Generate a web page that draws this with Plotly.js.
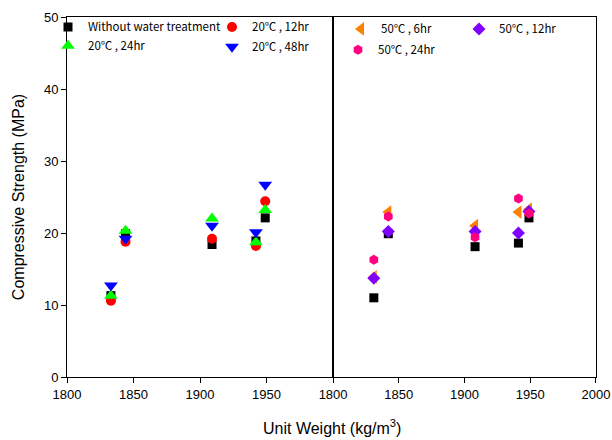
<!DOCTYPE html>
<html>
<head>
<meta charset="utf-8">
<script src="https://cdn.plot.ly/plotly-3.0.1.min.js"></script>
<style>html,body{margin:0;padding:0;background:#fff;}#chart{width:612px;height:440px;}</style>
</head>
<body>
<div id="chart"></div>
<script>
// Left panel (20 ℃ curing)
const xLeft = [1833, 1844, 1909, 1942, 1949];
const noTreatLeft = [11.3, 19.9, 18.4, 18.9, 22.1];
const t20_12 = [10.6, 18.8, 19.2, 18.2, 24.4];
const t20_24 = [11.3, 20.3, 22.0, 18.7, 23.2];
const t20_48 = [12.7, 19.2, 21.0, 20.1, 26.7];
// Right panel (50 ℃ curing)
const xRight = [1831, 1842, 1908, 1941, 1949];
const noTreatRight = [11.0, 19.9, 18.1, 18.6, 22.1];
const t50_6 = [13.9, 22.9, 21.0, 22.9, 23.3];
const t50_12 = [13.7, 20.2, 20.2, 20.0, 23.0];
const t50_24 = [16.3, 22.3, 19.4, 24.8, 22.7];

const names = ['Without water treatment', '20℃ , 12hr', '20℃ , 24hr', '20℃ , 48hr',
               '50℃ , 6hr', '50℃ , 12hr', '50℃ , 24hr'];
const xTicksLeft = [1800, 1850, 1900, 1950];
const xTicksRight = [1800, 1850, 1900, 1950, 2000];
const yTicks = [0, 10, 20, 30, 40, 50];

function tr(x, y, name, color, symbol, size, xa, ya, leg, show) {
  return {x: x, y: y, name: name, type: 'scatter', mode: 'markers',
    xaxis: xa, yaxis: ya, legend: leg, showlegend: show,
    marker: {color: color, symbol: symbol, size: size, line: {width: 0}}};
}
const data = [
  tr(xLeft, noTreatLeft, names[0], '#000000', 'square', 9, 'x', 'y', 'legend', true),
  tr(xLeft, t20_12, names[1], '#ff0000', 'circle', 10, 'x', 'y', 'legend2', true),
  tr(xLeft, t20_24, names[2], '#00ff00', 'triangle-up', 12, 'x', 'y', 'legend3', true),
  tr(xLeft, t20_48, names[3], '#0000ff', 'triangle-down', 12, 'x', 'y', 'legend4', true),
  tr(xRight, noTreatRight, names[0], '#000000', 'square', 9, 'x2', 'y2', 'legend', false),
  tr(xRight, t50_6, names[4], '#ff8000', 'triangle-left', 12, 'x2', 'y2', 'legend5', true),
  tr(xRight, t50_12, names[5], '#8000ff', 'diamond', 10, 'x2', 'y2', 'legend6', true),
  tr(xRight, t50_24, names[6], '#ff0080', 'hexagon', 10, 'x2', 'y2', 'legend7', true)
];

const W = 612, H = 440, L = 67, R = 16, T = 15, B = 63;
const pw = W - L - R, ph = H - T - B;
function px(x) { return (x - L) / pw; }
function py(y) { return (H - B - y) / ph; }
const legFont = {family: 'Noto Sans CJK KR, Noto Sans, sans-serif', size: 11.5, color: '#000'};
function leg(xp, yp) {
  return {x: px(xp), y: py(yp), xanchor: 'left', yanchor: 'middle',
    bgcolor: 'rgba(0,0,0,0)', borderwidth: 0, font: legFont, itemwidth: 30};
}
const tickFont = {family: 'Liberation Sans, Arial, sans-serif', size: 13, color: '#000'};
const axCommon = {showgrid: false, zeroline: false, showline: true, linecolor: '#000',
  linewidth: 1, mirror: true, tickfont: tickFont, ticks: 'outside', ticklen: 5,
  tickcolor: '#000', range: [1800, 2000], fixedrange: true};

const layout = {
  width: W, height: H, margin: {l: L, r: R, t: T, b: B},
  paper_bgcolor: '#fff', plot_bgcolor: '#fff',
  xaxis: Object.assign({}, axCommon, {domain: [0, 0.503], anchor: 'y',
    tickmode: 'array', tickvals: xTicksLeft, ticktext: xTicksLeft.map(String)}),
  xaxis2: Object.assign({}, axCommon, {domain: [0.503, 1], anchor: 'y2',
    tickmode: 'array', tickvals: xTicksRight, ticktext: xTicksRight.map(String)}),
  yaxis: {domain: [0, 1], anchor: 'x', range: [0, 50], showgrid: false, zeroline: false,
    showline: true, linecolor: '#000', linewidth: 1, mirror: true, ticks: 'outside',
    ticklen: 5, tickcolor: '#000', tickfont: tickFont, tickmode: 'array', tickvals: yTicks,
    title: {text: 'Compressive Strength (MPa)', standoff: 15,
      font: {family: 'Liberation Sans, Arial, sans-serif', size: 16, color: '#000'}}},
  yaxis2: {domain: [0, 1], anchor: 'x2', range: [0, 50], showgrid: false, zeroline: false,
    showline: true, linecolor: '#000', linewidth: 1, mirror: true, ticks: '',
    showticklabels: false},
  legend: leg(48, 25),
  legend2: leg(212, 25),
  legend3: leg(48, 44),
  legend4: leg(212, 45),
  legend5: leg(341, 27),
  legend6: leg(459, 27),
  legend7: leg(338, 48),
  annotations: [{text: 'Unit Weight (kg/m<sup>3</sup>)', xref: 'paper', yref: 'paper',
    x: 0.5, y: py(427), xanchor: 'center', yanchor: 'middle', showarrow: false,
    font: {family: 'Liberation Sans, Arial, sans-serif', size: 16, color: '#000'}}]
};

Plotly.newPlot('chart', data, layout, {staticPlot: true, displayModeBar: false});
</script>
</body>
</html>
